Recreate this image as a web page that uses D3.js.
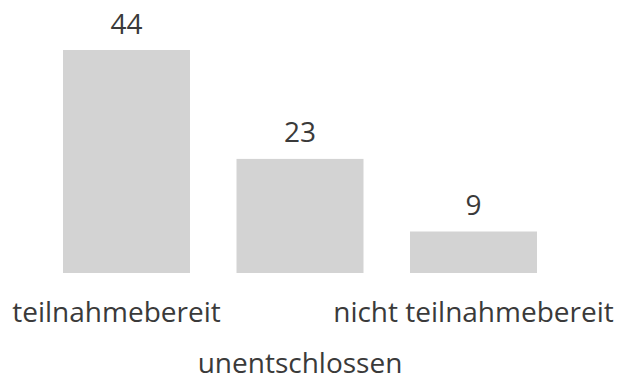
<!DOCTYPE html>
<html>
<head>
<meta charset="utf-8">
<script src="https://cdn.jsdelivr.net/npm/d3@7"></script>
<style>
  html, body { margin: 0; padding: 0; background: #fff; }
  svg { display: block; }
  text { font-family: "Open Sans", "Noto Sans", sans-serif; fill: #3a3a3a; }
</style>
</head>
<body>
<svg id="chart" width="620" height="381"></svg>
<script>
// Readiness to take part
const categories = ["teilnahmebereit", "unentschlossen", "nicht teilnahmebereit"];
const counts = [44, 23, 9];

const svg = d3.select("#chart");
const baseY = 273, topY = 50;

const x = d3.scaleBand()
  .domain(categories)
  .range([16.5, 583.5])
  .padding(0.268);

const y = d3.scaleLinear()
  .domain([1, d3.max(counts)])
  .range([baseY, topY]);

const rows = categories.map((c, i) => ({ cat: c, val: counts[i], i }));

svg.selectAll("rect.bar")
  .data(rows)
  .join("rect")
  .attr("class", "bar")
  .attr("x", d => x(d.cat))
  .attr("y", d => y(d.val))
  .attr("width", x.bandwidth())
  .attr("height", d => baseY - y(d.val))
  .attr("fill", "#d3d3d3");

// value labels above bars
svg.selectAll("text.val")
  .data(rows)
  .join("text")
  .attr("class", "val")
  .attr("x", d => x(d.cat) + x.bandwidth() / 2)
  .attr("y", d => y(d.val) - 16.5)
  .attr("text-anchor", "middle")
  .style("font-size", "28px")
  .text(d => d.val);

// category labels, staggered on two rows
svg.selectAll("text.cat")
  .data(rows)
  .join("text")
  .attr("class", "cat")
  .attr("x", d => x(d.cat) + x.bandwidth() / 2 + (d.i === 0 ? -10 : 0))
  .attr("y", d => d.i % 2 === 1 ? 373 : 322)
  .attr("text-anchor", "middle")
  .style("font-size", "28px")
  .text(d => d.cat);
</script>
</body>
</html>
